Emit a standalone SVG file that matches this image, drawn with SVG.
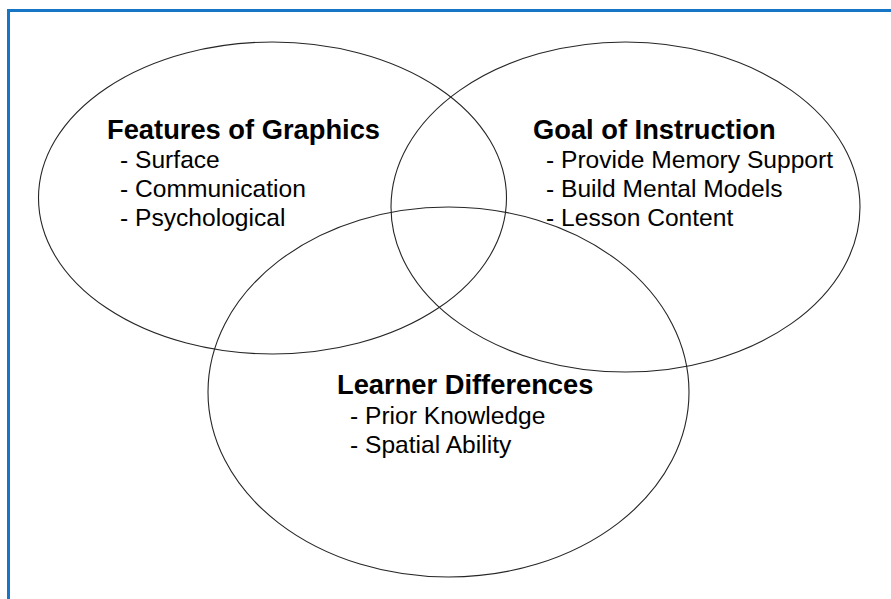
<svg xmlns="http://www.w3.org/2000/svg" width="891" height="599" viewBox="0 0 891 599">
<style>
.ell{fill:none;stroke:#262626;stroke-width:1.1}
.t{font-family:"Liberation Sans",Arial,sans-serif;font-weight:bold;font-size:27.3px;fill:#000}
.i{font-family:"Liberation Sans",Arial,sans-serif;font-size:24.6px;fill:#000}
</style>
<rect x="0" y="0" width="891" height="599" fill="#fff"/>
<rect x="8.5" y="10.5" width="900" height="620" fill="none" stroke="#1775c6" stroke-width="3"/>
<g id="connectors"></g>
<g id="features">
<ellipse class="ell" cx="272.5" cy="198" rx="234" ry="156"/>
<text class="t" x="107" y="138.5">Features of Graphics</text>
<text class="i" x="120" y="168">- Surface</text>
<text class="i" x="120" y="197">- Communication</text>
<text class="i" x="120" y="226">- Psychological</text>
</g>
<g id="goal">
<ellipse class="ell" cx="625.5" cy="207" rx="234.5" ry="165"/>
<text class="t" x="533" y="138.5">Goal of Instruction</text>
<text class="i" x="546" y="168">- Provide Memory Support</text>
<text class="i" x="546" y="197">- Build Mental Models</text>
<text class="i" x="546" y="226">- Lesson Content</text>
</g>
<g id="learner">
<ellipse class="ell" cx="448.5" cy="392" rx="240.5" ry="185"/>
<text class="t" x="337" y="393.5">Learner Differences</text>
<text class="i" x="350" y="423.5">- Prior Knowledge</text>
<text class="i" x="350" y="452.5">- Spatial Ability</text>
</g>
</svg>
